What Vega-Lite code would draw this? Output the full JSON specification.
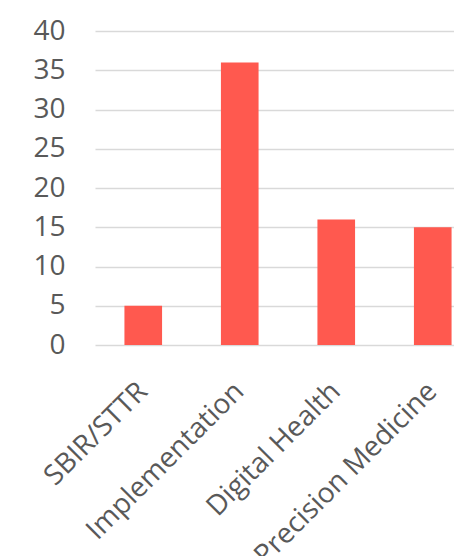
{
  "$schema": "https://vega.github.io/schema/vega-lite/v6.json",
  "autosize": "none",
  "padding": {"left": 95, "top": 31, "right": 0, "bottom": 211},
  "width": 386,
  "height": 314,
  "background": "white",
  "data": {"values": [
    {"category": "SBIR/STTR", "value": 5},
    {"category": "Implementation", "value": 36},
    {"category": "Digital Health", "value": 16},
    {"category": "Precision Medicine", "value": 15}
  ]},
  "mark": {"type": "bar", "color": "#FF594F"},
  "encoding": {
    "x": {
      "field": "category", "type": "nominal", "sort": null,
      "scale": {"paddingInner": 0.61, "paddingOuter": 0.305},
      "axis": {"title": null, "labelAngle": -45, "labelAlign": "right", "labelBaseline": "middle",
               "labelFont": "Open Sans", "labelFontSize": 28, "labelColor": "#595959",
               "labelPadding": 42, "ticks": false, "domain": false, "labelOverlap": false, "labelLimit": 0}
    },
    "y": {
      "field": "value", "type": "quantitative",
      "scale": {"domain": [0, 40]},
      "axis": {"title": null, "values": [0, 5, 10, 15, 20, 25, 30, 35, 40],
               "labelFont": "Open Sans", "labelFontSize": 28, "labelColor": "#595959",
               "labelPadding": 30, "ticks": false, "domain": false,
               "gridColor": "#D9D9D9", "gridWidth": 1.5}
    }
  },
  "config": {"view": {"stroke": null}}
}
